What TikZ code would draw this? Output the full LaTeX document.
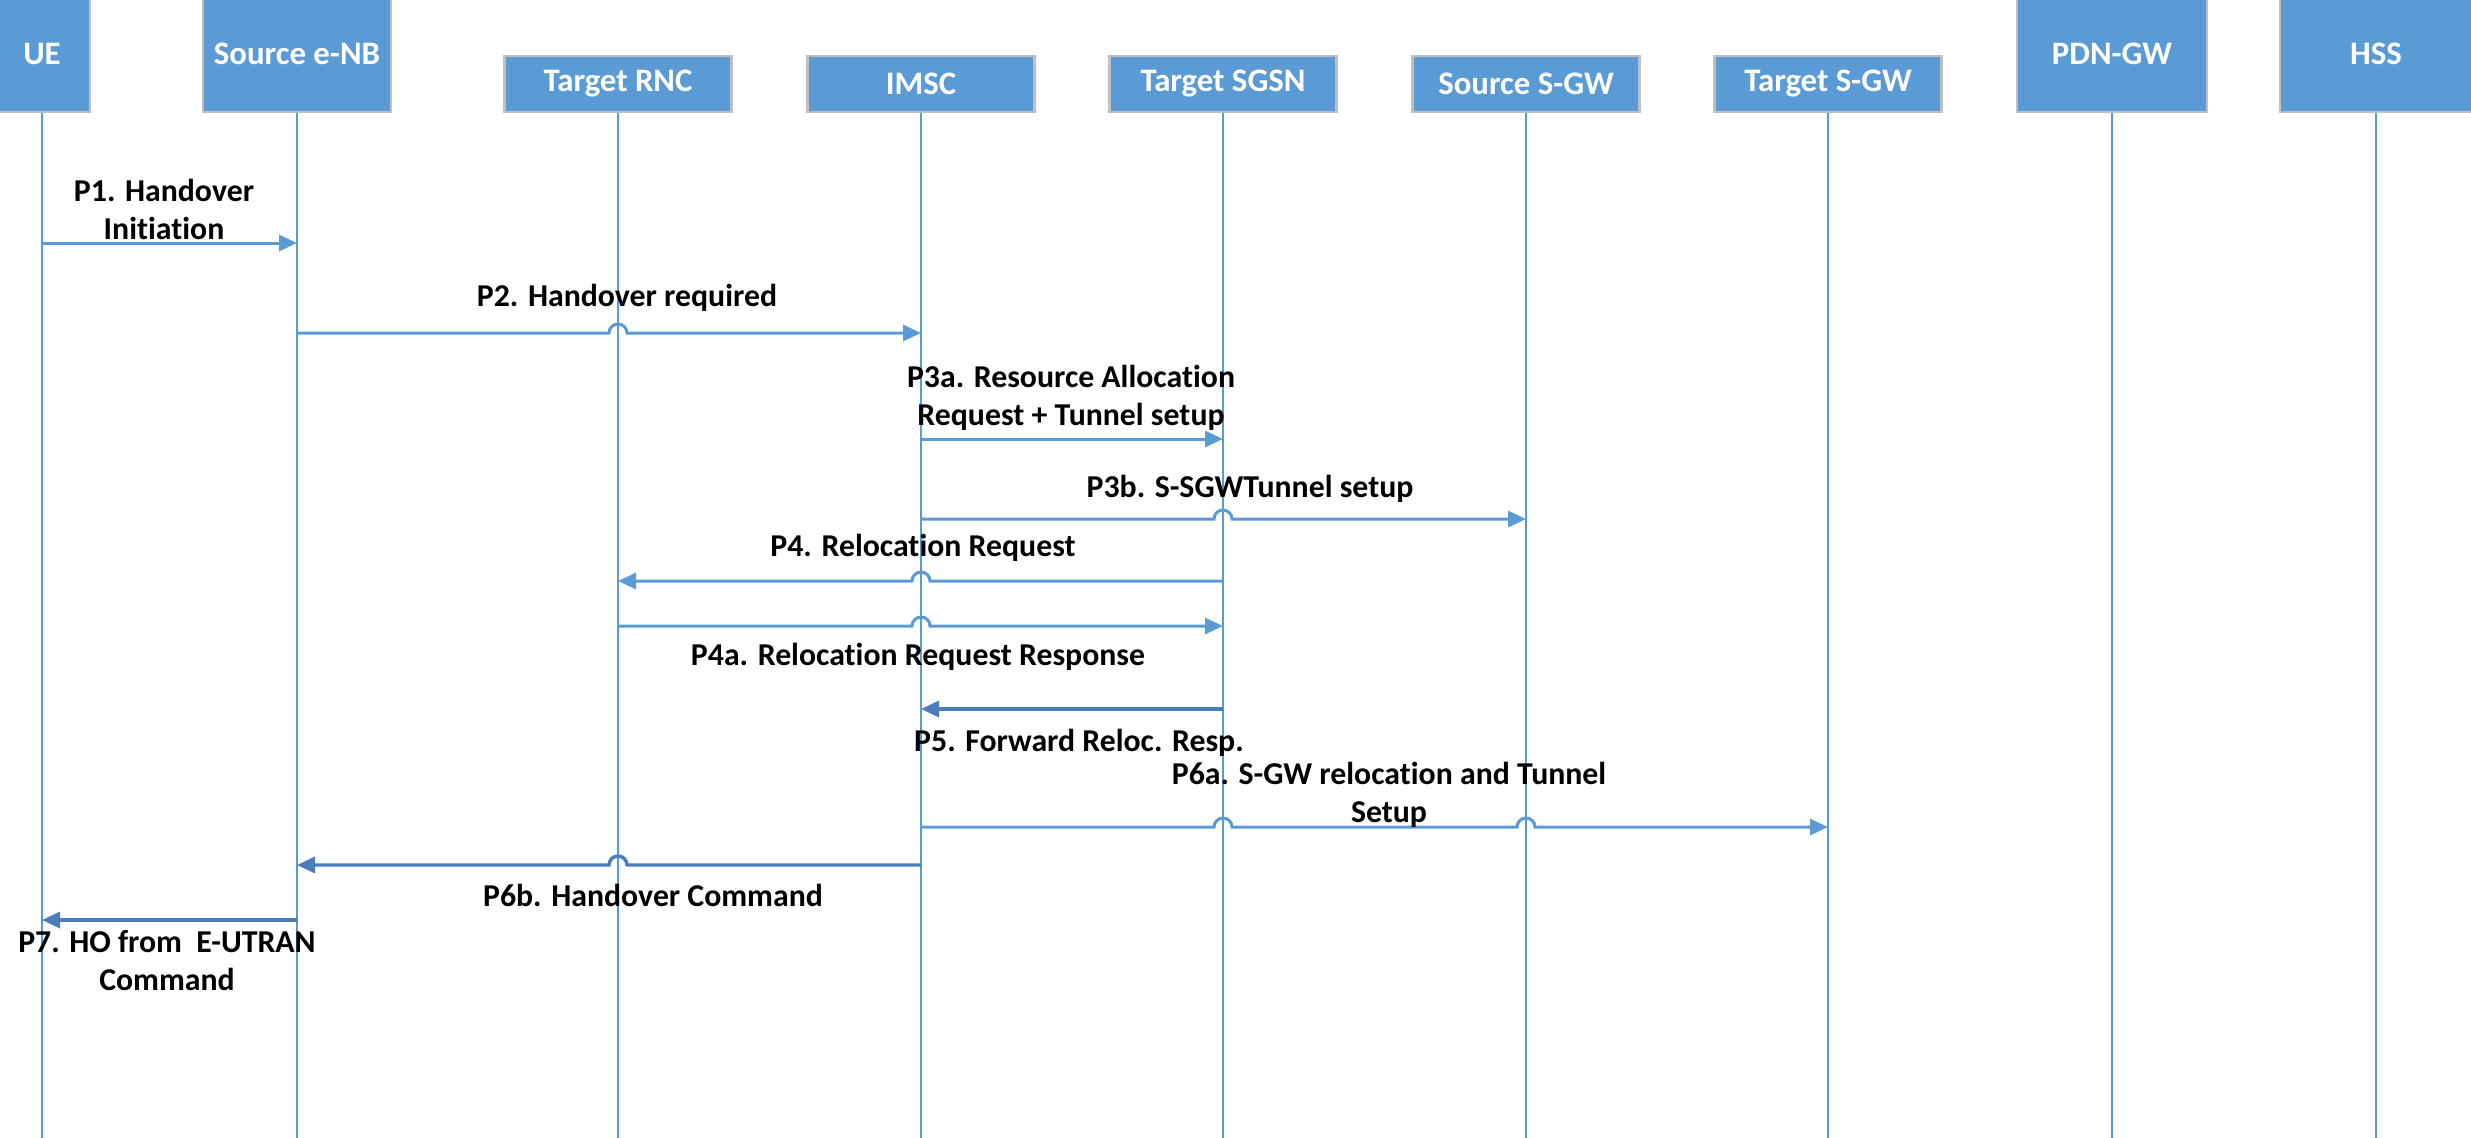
\documentclass[tikz,border=0pt]{standalone}
\usepackage{fontspec}
\setmainfont{Carlito}[Ligatures={NoCommon}]
\usetikzlibrary{arrows.meta,calc}
\definecolor{boxblue}{HTML}{5B9BD5}
\definecolor{boxedge}{HTML}{BFBFBF}
\definecolor{darkarrow}{HTML}{4A7EBB}
\begin{document}
\begin{tikzpicture}[x=0.5pt,y=-0.5pt,
  box/.style={draw=boxedge,line width=1.3pt,fill=boxblue,text=white,font=\fontsize{16.4}{19}\selectfont\bfseries,inner sep=0pt},
  tallbox/.style={box,minimum height=58pt},
  shortbox/.style={box,minimum width=113.5pt,minimum height=28pt},
  life/.style={draw=boxblue,line width=1pt},
  msg/.style={draw=boxblue,line width=1.5pt,-{Triangle[length=9pt,width=8pt]}},
  msgdark/.style={msg,draw=darkarrow,line width=1.7pt},
  lbl/.style={font=\fontsize{15.9}{19}\selectfont\bfseries,align=center,inner sep=0pt}
]
\useasboundingbox (0,0) rectangle (2471,1137);
\clip (0,0) rectangle (2471,1137);

% participants
\node[tallbox,minimum width=48pt] (ue) at (42,54) {UE};
\node[tallbox,minimum width=94pt] (enb) at (297,54) {Source e-NB};
\node[shortbox] (rnc) at (618,84) {Target RNC};
\node[shortbox] (imsc) at (921,84) {IMSC};
\node[shortbox] (sgsn) at (1223,84) {Target SGSN};
\node[shortbox] (ssgw) at (1526,84) {Source S-GW};
\node[shortbox] (tsgw) at (1828,84) {Target S-GW};
\node[tallbox,minimum width=95pt] (pdn) at (2112,54) {PDN-GW};
\node[tallbox,minimum width=96pt] (hss) at (2376,54) {HSS};

% lifelines
\foreach \n in {ue,enb,rnc,imsc,sgsn,ssgw,tsgw,pdn,hss}{
  \coordinate (\n-end) at (\n.south |- 0,1140);
  \draw[life] (\n.south) -- (\n-end);
}

% P1
\draw[msg] (ue |- 0,243) -- (enb |- 0,243);
\node[lbl] (l1) at (164,209) {P1. Handover\\Initiation};

% P2
\draw[msg] (enb |- 0,333) -- ($(rnc |- 0,333)+(-9,0)$) arc[start angle=180,end angle=0,radius=4.5pt] -- (imsc |- 0,333);
\node[lbl] (l2) at (627,298) {P2. Handover required};

% P3a
\draw[msg] (imsc |- 0,439) -- (sgsn |- 0,439);
\node[lbl] (l3a) at (1071,398) {P3a. Resource Allocation\\Request + Tunnel setup};

% P3b
\draw[msg] (imsc |- 0,519) -- ($(sgsn |- 0,519)+(-9,0)$) arc[start angle=180,end angle=0,radius=4.5pt] -- (ssgw |- 0,519);
\node[lbl] (l3b) at (1250,489) {P3b. S-SGWTunnel setup};

% P4
\draw[msg] (sgsn |- 0,581) -- ($(imsc |- 0,581)+(9,0)$) arc[start angle=0,end angle=180,radius=4.5pt] -- (rnc |- 0,581);
\node[lbl] (l4) at (923,548) {P4. Relocation Request};

% P4a
\draw[msg] (rnc |- 0,626) -- ($(imsc |- 0,626)+(-9,0)$) arc[start angle=180,end angle=0,radius=4.5pt] -- (sgsn |- 0,626);
\node[lbl] (l4a) at (918,657) {P4a. Relocation Request Response};

% P5
\draw[msgdark] (sgsn |- 0,709) -- (imsc |- 0,709);
\node[lbl] (l5) at (1079,743) {P5. Forward Reloc. Resp.};

% P6a
\draw[msg] (imsc |- 0,827) -- ($(sgsn |- 0,827)+(-9,0)$) arc[start angle=180,end angle=0,radius=4.5pt]
  -- ($(ssgw |- 0,827)+(-9,0)$) arc[start angle=180,end angle=0,radius=4.5pt] -- (tsgw |- 0,827);
\node[lbl] (l6a) at (1389,795) {P6a. S-GW relocation and Tunnel\\Setup};

% P6b
\draw[msgdark] (imsc |- 0,865) -- ($(rnc |- 0,865)+(9,0)$) arc[start angle=0,end angle=180,radius=4.5pt] -- (enb |- 0,865);
\node[lbl] (l6b) at (653,895) {P6b. Handover Command};

% P7
\draw[msgdark] (enb |- 0,920) -- (ue |- 0,920);
\node[lbl] (l7) at (167,961) {P7. HO from\ \ E-UTRAN\\Command};
\end{tikzpicture}
\end{document}
